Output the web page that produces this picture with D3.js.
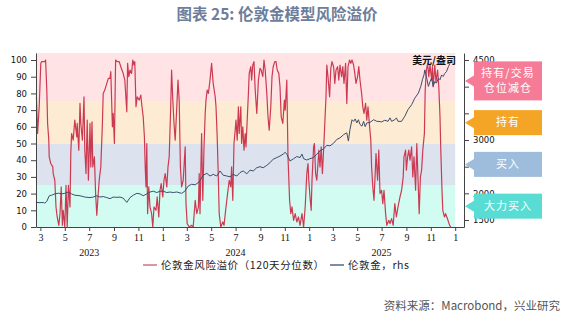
<!DOCTYPE html>
<html>
<head>
<meta charset="utf-8">
<script src="https://cdn.jsdelivr.net/npm/d3@7"></script>
<style>
  body { margin: 0; background: #fff; }
  svg { display: block; }
</style>
</head>
<body>
<svg id="chart" width="567" height="323"></svg>
<script>
// London gold risk premium (120-day percentile), left axis
const premium = [
  ["2023-02-19",78],["2023-02-22",56],["2023-02-26",72],["2023-03-02",98],["2023-03-04",99],["2023-03-08",99],["2023-03-12",99],["2023-03-14",100],["2023-03-17",82],["2023-03-19",62],["2023-03-22",52],["2023-03-23",42],["2023-03-27",38],["2023-04-01",36],["2023-04-02",32],["2023-04-06",28],["2023-04-09",12],["2023-04-12",6],["2023-04-16",1],["2023-04-19",8],["2023-04-22",24],["2023-04-25",1],["2023-04-27",10],["2023-05-01",0],["2023-05-04",25],["2023-05-07",0],["2023-05-10",25],["2023-05-14",12],["2023-05-16",44],["2023-05-18",56],["2023-05-22",52],["2023-05-26",64],["2023-05-31",54],["2023-06-01",62],["2023-06-05",46],["2023-06-08",74],["2023-06-10",62],["2023-06-14",52],["2023-06-18",78],["2023-06-20",46],["2023-06-23",32],["2023-06-26",64],["2023-06-29",28],["2023-07-03",62],["2023-07-05",36],["2023-07-08",63],["2023-07-10",36],["2023-07-14",42],["2023-07-17",20],["2023-07-20",7],["2023-07-23",18],["2023-07-26",28],["2023-07-30",36],["2023-08-03",62],["2023-08-05",80],["2023-08-09",82],["2023-08-14",86],["2023-08-18",89],["2023-08-22",89],["2023-08-24",93],["2023-08-28",60],["2023-08-30",68],["2023-09-02",50],["2023-09-05",100],["2023-09-09",99],["2023-09-14",99],["2023-09-18",96],["2023-09-24",92],["2023-09-28",88],["2023-10-03",69],["2023-10-05",98],["2023-10-08",90],["2023-10-11",94],["2023-10-15",92],["2023-10-18",100],["2023-10-21",97],["2023-10-23",99],["2023-10-26",72],["2023-10-29",78],["2023-11-03",76],["2023-11-07",79],["2023-11-10",72],["2023-11-13",66],["2023-11-16",54],["2023-11-18",36],["2023-11-20",24],["2023-11-22",50],["2023-11-24",8],["2023-11-27",24],["2023-11-30",12],["2023-12-04",8],["2023-12-07",0],["2023-12-10",12],["2023-12-15",10],["2023-12-18",18],["2023-12-22",6],["2023-12-25",22],["2023-12-28",26],
  ["2024-01-01",18],["2024-01-04",28],["2024-01-07",32],["2024-01-11",24],["2024-01-14",36],["2024-01-17",42],["2024-01-21",74],["2024-01-23",94],["2024-01-26",76],["2024-01-29",62],["2024-02-01",52],["2024-02-05",72],["2024-02-08",88],["2024-02-11",76],["2024-02-14",36],["2024-02-17",24],["2024-02-21",28],["2024-02-26",48],["2024-02-28",14],["2024-03-02",2],["2024-03-07",0],["2024-03-13",1],["2024-03-17",0],["2024-03-22",16],["2024-03-26",8],["2024-03-30",12],["2024-04-01",32],["2024-04-03",8],["2024-04-07",56],["2024-04-10",16],["2024-04-13",48],["2024-04-16",68],["2024-04-18",76],["2024-04-21",82],["2024-04-24",80],["2024-04-28",88],["2024-05-02",98],["2024-05-06",86],["2024-05-11",78],["2024-05-13",72],["2024-05-16",54],["2024-05-19",28],["2024-05-21",8],["2024-05-25",0],["2024-05-30",3],["2024-06-02",1],["2024-06-07",12],["2024-06-10",18],["2024-06-15",28],["2024-06-19",24],["2024-06-21",36],["2024-06-24",16],["2024-06-27",50],["2024-06-30",58],["2024-07-02",64],["2024-07-05",52],["2024-07-08",72],["2024-07-10",56],["2024-07-14",72],["2024-07-16",50],["2024-07-19",60],["2024-07-22",46],["2024-07-25",56],["2024-07-27",48],["2024-07-30",64],["2024-08-02",80],["2024-08-04",92],["2024-08-08",96],["2024-08-10",88],["2024-08-13",97],["2024-08-16",99],["2024-08-19",82],["2024-08-23",68],["2024-08-27",88],["2024-08-31",95],["2024-09-03",94],["2024-09-07",90],["2024-09-10",100],["2024-09-13",94],["2024-09-17",80],["2024-09-20",66],["2024-09-23",58],["2024-09-27",72],["2024-09-30",90],["2024-10-03",96],["2024-10-07",99],["2024-10-10",99],["2024-10-13",94],["2024-10-17",92],["2024-10-20",84],["2024-10-23",66],["2024-10-27",62],["2024-10-31",76],["2024-11-02",70],["2024-11-06",88],["2024-11-09",42],["2024-11-13",16],["2024-11-16",8],["2024-11-19",12],["2024-11-23",4],["2024-11-27",8],["2024-12-01",3],["2024-12-05",6],["2024-12-09",1],["2024-12-14",8],["2024-12-18",0],["2024-12-22",12],["2024-12-26",32],["2024-12-29",38],["2024-12-31",28],
  ["2025-01-03",18],["2025-01-06",10],["2025-01-08",28],["2025-01-12",48],["2025-01-14",50],["2025-01-17",32],["2025-01-20",28],["2025-01-23",38],["2025-01-25",46],["2025-01-28",36],["2025-01-31",48],["2025-02-03",32],["2025-02-06",46],["2025-02-09",62],["2025-02-12",78],["2025-02-14",97],["2025-02-17",90],["2025-02-21",78],["2025-02-24",95],["2025-02-27",99],["2025-03-03",96],["2025-03-06",86],["2025-03-09",94],["2025-03-13",96],["2025-03-16",88],["2025-03-19",97],["2025-03-23",90],["2025-03-26",96],["2025-03-29",86],["2025-04-02",98],["2025-04-05",74],["2025-04-08",96],["2025-04-12",100],["2025-04-15",98],["2025-04-18",100],["2025-04-22",97],["2025-04-25",92],["2025-04-28",86],["2025-05-02",90],["2025-05-05",96],["2025-05-08",88],["2025-05-12",80],["2025-05-15",72],["2025-05-18",68],["2025-05-22",74],["2025-05-25",64],["2025-05-28",72],["2025-06-01",60],["2025-06-04",52],["2025-06-06",36],["2025-06-09",24],["2025-06-12",16],["2025-06-15",32],["2025-06-17",44],["2025-06-21",28],["2025-06-24",46],["2025-06-27",20],["2025-07-01",22],["2025-07-04",14],["2025-07-07",22],["2025-07-11",8],["2025-07-14",1],["2025-07-19",4],["2025-07-22",2],["2025-07-26",5],["2025-07-30",1],["2025-08-03",14],["2025-08-07",6],["2025-08-11",12],["2025-08-16",18],["2025-08-20",22],["2025-08-24",30],["2025-08-26",42],["2025-08-30",46],["2025-09-01",34],["2025-09-04",42],["2025-09-07",46],["2025-09-10",40],["2025-09-14",48],["2025-09-17",30],["2025-09-20",42],["2025-09-24",22],["2025-09-27",50],["2025-10-03",8],["2025-10-06",30],["2025-10-09",34],["2025-10-12",46],["2025-10-16",56],["2025-10-18",82],["2025-10-21",94],["2025-10-24",98],["2025-10-27",90],["2025-10-30",97],["2025-11-03",88],["2025-11-05",96],["2025-11-07",84],["2025-11-11",97],["2025-11-14",87],["2025-11-18",94],["2025-11-21",84],["2025-11-24",66],["2025-11-26",46],["2025-11-29",22],["2025-12-01",10],["2025-12-05",6],["2025-12-08",8],["2025-12-11",6],["2025-12-14",4],["2025-12-18",1],["2025-12-21",0]
];

// London gold price, USD/oz, right axis
const gold = [
  ["2023-02-19",1830],["2023-02-28",1825],["2023-03-08",1830],["2023-03-12",1815],["2023-03-17",1850],["2023-03-23",1953],["2023-03-29",1965],["2023-04-06",1990],["2023-04-15",2003],["2023-04-23",1990],["2023-05-01",2000],["2023-05-10",2025],["2023-05-18",1990],["2023-05-26",1965],["2023-06-08",1955],["2023-06-20",1930],["2023-07-03",1920],["2023-07-11",1930],["2023-07-20",1955],["2023-07-28",1930],["2023-08-05",1940],["2023-08-14",1920],["2023-08-22",1900],["2023-08-30",1930],["2023-09-08",1925],["2023-09-16",1930],["2023-09-24",1910],["2023-10-03",1830],["2023-10-11",1920],["2023-10-19",1965],["2023-10-28",2000],["2023-11-05",1990],["2023-11-13",1955],["2023-11-22",1990],["2023-11-30",2025],["2023-12-08",2040],["2023-12-17",2015],["2023-12-25",2040],
  ["2024-01-02",2040],["2024-01-11",2015],["2024-01-19",2025],["2024-01-27",2015],["2024-02-05",2025],["2024-02-17",2000],["2024-02-25",2040],["2024-03-05",2140],["2024-03-13",2170],["2024-03-22",2160],["2024-04-01",2215],["2024-04-11",2340],["2024-04-20",2375],["2024-04-28",2325],["2024-05-06",2355],["2024-05-15",2325],["2024-05-23",2420],["2024-05-31",2340],["2024-06-09",2325],["2024-06-17",2310],["2024-06-25",2355],["2024-07-04",2325],["2024-07-12",2390],["2024-07-20",2420],["2024-07-29",2365],["2024-08-06",2435],["2024-08-14",2420],["2024-08-23",2480],["2024-08-31",2500],["2024-09-08",2480],["2024-09-17",2525],["2024-09-25",2575],["2024-10-03",2640],["2024-10-12",2670],["2024-10-20",2700],["2024-10-28",2735],["2024-11-02",2770],["2024-11-06",2735],["2024-11-14",2605],["2024-11-23",2650],["2024-12-01",2690],["2024-12-09",2670],["2024-12-14",2735],["2024-12-18",2650],["2024-12-26",2625],
  ["2025-01-03",2650],["2025-01-12",2670],["2025-01-20",2735],["2025-01-28",2795],["2025-02-06",2835],["2025-02-14",2900],["2025-02-22",2890],["2025-03-03",2940],["2025-03-11",3010],["2025-03-19",3040],["2025-03-28",3100],["2025-04-05",3135],["2025-04-09",2980],["2025-04-13",3200],["2025-04-18",3380],["2025-04-22",3350],["2025-04-26",3395],["2025-04-30",3320],["2025-05-04",3380],["2025-05-08",3290],["2025-05-13",3260],["2025-05-17",3350],["2025-05-21",3250],["2025-05-25",3320],["2025-06-02",3330],["2025-06-11",3380],["2025-06-19",3350],["2025-06-22",3350],["2025-07-01",3340],["2025-07-09",3370],["2025-07-17",3350],["2025-07-22",3415],["2025-07-26",3350],["2025-08-03",3380],["2025-08-07",3415],["2025-08-11",3350],["2025-08-20",3350],["2025-08-28",3445],["2025-09-05",3570],["2025-09-14",3660],["2025-09-22",3785],["2025-10-01",3880],["2025-10-07",4005],["2025-10-11",4130],["2025-10-15",4220],["2025-10-17",4315],["2025-10-21",4190],["2025-10-26",4005],["2025-10-30",4095],["2025-11-03",4160],["2025-11-07",4005],["2025-11-11",4095],["2025-11-15",4065],["2025-11-20",4160],["2025-11-24",4130],["2025-11-28",4220],["2025-12-02",4190],["2025-12-06",4250],["2025-12-10",4280],["2025-12-15",4375],["2025-12-19",4440],["2025-12-23",4500]
];

// Signal zones on the percentile scale
const zoneBounds = [[0, 25], [25, 50], [50, 75], [75, 104.2]];
const zoneFills = ["#d2fcf1", "#dce3ef", "#fdebd4", "#ffe3e5"];
const zoneLabels = [["大力买入"], ["买入"], ["持有"], ["持有/交易", "仓位减仓"]];
const zoneTagColors = ["#58dcd3", "#9ebddc", "#f5a526", "#f57b96"];

const leftTicks = [0, 10, 20, 30, 40, 50, 60, 70, 80, 90, 100];
const rightTicks = [1500, 2000, 2500, 3000, 3500, 4000, 4500];
// Right-axis values whose labels sit clear of the zone tags
const rightLabelled = [1500, 2000, 3000, 4500];
const monthTicks = ["2023-03-01","2023-05-01","2023-07-01","2023-09-01","2023-11-01","2024-01-01","2024-03-01","2024-05-01","2024-07-01","2024-09-01","2024-11-01","2025-01-01","2025-03-01","2025-05-01","2025-07-01","2025-09-01","2025-11-01","2026-01-01"];
const yearLabels = [["2023", "2023-07-01"], ["2024", "2024-07-01"], ["2025", "2025-07-01"]];
const seriesNames = ["伦敦金风险溢价（120天分位数）", "伦敦金，rhs"];

const parse = d3.timeParse("%Y-%m-%d");
const svg = d3.select("#chart");

const plot = { left: 36, right: 464, top: 53, bottom: 227 };
const x = d3.scaleTime()
  .domain([parse("2023-02-18"), parse("2026-01-23")])
  .range([plot.left, plot.right]);
const yL = d3.scaleLinear().domain([0, 104.2]).range([plot.bottom, plot.top]);
const yR = d3.scaleLinear().domain([1369, 4631]).range([plot.bottom, plot.top]);
const zoneEnd = parse("2026-01-01");

const numFont = "'DejaVu Sans', Verdana, sans-serif";
const serifFont = "'Liberation Serif', 'Times New Roman', serif";
const cjkFont = "'Noto Sans CJK SC', 'Noto Sans', sans-serif";

// Zones
svg.append("g").selectAll("rect").data(zoneBounds).join("rect")
  .attr("x", plot.left)
  .attr("width", x(zoneEnd) - plot.left)
  .attr("y", d => yL(d[1]))
  .attr("height", d => yL(d[0]) - yL(d[1]))
  .attr("fill", (d, i) => zoneFills[i]);

// Lines
const premiumLine = d3.line().x(d => x(parse(d[0]))).y(d => yL(d[1]));
const goldLine = d3.line().x(d => x(parse(d[0]))).y(d => yR(d[1]));

svg.append("path").datum(premium)
  .attr("d", premiumLine)
  .attr("fill", "none").attr("stroke", "#cc3a52").attr("stroke-width", 1.2)
  .attr("stroke-linejoin", "round");

svg.append("path").datum(gold)
  .attr("d", goldLine)
  .attr("fill", "none").attr("stroke", "#3f4e6b").attr("stroke-width", 1)
  .attr("stroke-linejoin", "round");

// Axes
const axisColor = "#444";
function styleAxis(g) {
  g.selectAll("path, line").attr("stroke", axisColor);
  g.selectAll("text").attr("fill", "#111");
}

svg.append("g")
  .attr("transform", `translate(${plot.left},0)`)
  .call(d3.axisLeft(yL).tickValues(leftTicks).tickSize(5).tickSizeOuter(0).tickPadding(4))
  .call(styleAxis)
  .call(g => g.selectAll("text").attr("font-family", numFont).attr("font-size", 8.5));

svg.append("g")
  .attr("transform", `translate(0,${plot.bottom})`)
  .call(d3.axisBottom(x).tickValues(monthTicks.map(parse)).tickFormat(d => d.getMonth() + 1)
    .tickSize(4).tickSizeOuter(0).tickPadding(3))
  .call(styleAxis)
  .call(g => g.selectAll("text").attr("font-family", serifFont).attr("font-size", 10));

svg.append("g")
  .attr("transform", `translate(${plot.right},0)`)
  .call(d3.axisRight(yR).tickValues(rightTicks)
    .tickFormat(v => rightLabelled.includes(v) ? d3.format("d")(v) : "")
    .tickSize(5).tickSizeOuter(0).tickPadding(4))
  .call(styleAxis)
  .call(g => g.selectAll("text").attr("font-family", numFont).attr("font-size", 8.5));

// Year labels under the month ticks
svg.append("g").selectAll("text").data(yearLabels).join("text")
  .attr("x", d => x(parse(d[1])))
  .attr("y", 256)
  .attr("text-anchor", "middle")
  .attr("font-family", serifFont).attr("font-size", 10).attr("fill", "#111")
  .text(d => d[0]);

// Unit label
svg.append("text")
  .attr("x", 456).attr("y", 64)
  .attr("text-anchor", "end")
  .attr("font-family", cjkFont).attr("font-size", 10).attr("font-weight", 700)
  .attr("fill", "#111")
  .text("美元/盎司");

// Zone tags on the right
const tags = svg.append("g").selectAll("g").data(zoneBounds).join("g");
tags.each(function (d, i) {
  const g = d3.select(this);
  const cy = yL((d[0] + Math.min(d[1], 100)) / 2);
  const lines = zoneLabels[i];
  const h = lines.length > 1 ? 39 : 25;
  const bx = 474, bw = 68;
  g.append("path")
    .attr("d", `M${bx - 9},${cy} L${bx},${cy - 5.5} L${bx},${cy + 5.5} Z`)
    .attr("fill", zoneTagColors[i]);
  g.append("rect")
    .attr("x", bx).attr("y", cy - h / 2)
    .attr("width", bw).attr("height", h)
    .attr("fill", zoneTagColors[i]);
  lines.forEach((t, k) => {
    g.append("text")
      .attr("x", bx + bw / 2)
      .attr("y", cy + (k - (lines.length - 1) / 2) * 15)
      .attr("dy", "0.35em")
      .attr("text-anchor", "middle")
      .attr("font-family", cjkFont).attr("font-size", 11)
      .attr("letter-spacing", 1)
      .attr("fill", "#fff")
      .text(t);
  });
});

// Legend
const legendItems = [
  { name: seriesNames[0], color: "#d05a6c", x: 143 },
  { name: seriesNames[1], color: "#3f4e6b", x: 330 }
];
const legend = svg.append("g").selectAll("g").data(legendItems).join("g")
  .attr("transform", d => `translate(${d.x},265)`);
legend.append("line")
  .attr("x1", 0).attr("x2", 14).attr("y1", 0).attr("y2", 0)
  .attr("stroke", d => d.color).attr("stroke-width", 1.3);
legend.append("text")
  .attr("x", 18).attr("dy", "0.35em")
  .attr("font-family", cjkFont).attr("font-size", 10.5)
  .attr("letter-spacing", 0.6)
  .attr("fill", "#222")
  .text(d => d.name);

// Title
svg.append("text")
  .attr("x", 277).attr("y", 20)
  .attr("text-anchor", "middle")
  .attr("font-family", cjkFont).attr("font-size", 15.5).attr("font-weight", 700)
  .attr("fill", "#6c7e9b")
  .text("图表 25: 伦敦金模型风险溢价");

// Source
svg.append("text")
  .attr("x", 560).attr("y", 310)
  .attr("text-anchor", "end")
  .attr("font-family", cjkFont).attr("font-size", 11.5)
  .attr("fill", "#555")
  .text("资料来源：Macrobond，兴业研究");
</script>
</body>
</html>
